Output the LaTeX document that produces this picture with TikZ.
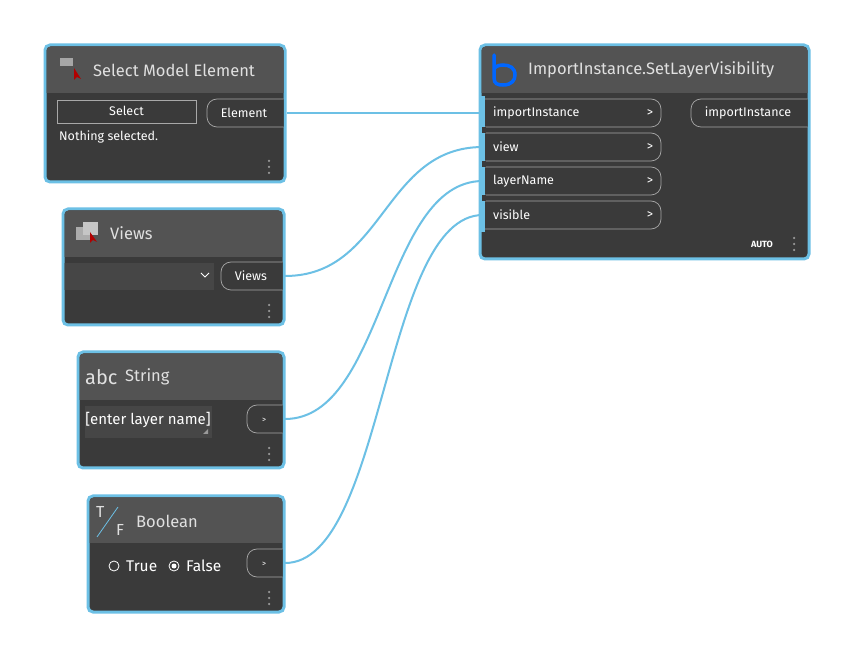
\documentclass[tikz,border=0pt]{standalone}
\usepackage{fontspec}
\setmainfont{Fira Sans}
\begin{document}
\begin{tikzpicture}[x=1pt,y=-1pt,
  frame/.style={draw=wire,line width=3pt,fill=body,rounded corners=5pt},
  title/.style={text=titl,font=\fontsize{16.5}{18}\selectfont,anchor=west,inner sep=0},
  pill/.style={draw=pillb,line width=0.7pt,rounded corners=10pt,fill=body},
  ptxt/.style={text=white,font=\fontsize{12.5}{14}\selectfont,inner sep=0},
  wireln/.style={draw=wire,line width=2pt},
  dots/.style={fill=gray!80,circle,inner sep=0,minimum size=2.5pt}]
\definecolor{wire}{HTML}{6CC0E5}
\definecolor{body}{HTML}{3A3A3A}
\definecolor{head}{HTML}{535353}
\definecolor{titl}{HTML}{E0E0E0}
\definecolor{pillb}{HTML}{A8A8A8}
\useasboundingbox[fill=white] (0,0) rectangle (855,660);
% wires
\coordinate (o1) at (287,113); \coordinate (o2) at (285,276);
\coordinate (o3) at (285,419); \coordinate (o4) at (285,563);
\coordinate (i1) at (483,113); \coordinate (i2) at (483,147);
\coordinate (i3) at (483,181); \coordinate (i4) at (483,215);
\draw[wireln] (o1) -- (i1);
\draw[wireln] (o2) .. controls (385,276) and (383,147) .. (i2);
\draw[wireln] (o3) .. controls (385,419) and (383,181) .. (i3);
\draw[wireln] (o4) .. controls (385,563) and (383,215) .. (i4);
% node 1
\draw[frame] (45,45) rectangle (285,182);
\begin{scope}\clip[rounded corners=4pt] (46.5,46.5) rectangle (283.5,180.5);
\fill[head] (46,46) rectangle (284,93);
\draw[pill] (207,99) -- (300,99) -- (300,127) -- (207,127) -- cycle;
\end{scope}
\node[title] (t1) at (93,70) {Select Model Element};
\fill[gray!70] (60,58) rectangle (73,66);
\fill[red!70!black] (74,68) -- (74,80) -- (77,77) -- (81,79) -- cycle;
\draw[pillb,line width=0.7pt] (57,100) rectangle (196,123);
\node[ptxt] (s1) at (126.5,111) {Select};
\node[ptxt,anchor=west] (n1) at (59,137) {Nothing selected.};
\node[ptxt] (p1) at (244,113) {Element};
\foreach \y in {161,167,173} \node[dots] at (269,\y) {};
% node 2
\draw[frame] (480,45) rectangle (809,259);
\begin{scope}\clip[rounded corners=4pt] (481.5,46.5) rectangle (807.5,257.5);
\fill[head] (481,46) rectangle (808,93);
\foreach \yy in {99,133,167,201}
  \draw[pill] (470,\yy) -- (661,\yy) -- (661,\yy+28) -- (470,\yy+28) -- cycle;
\draw[pill] (691,99) -- (830,99) -- (830,127) -- (691,127) -- cycle;
\end{scope}
\draw[line width=3.5pt,color=blue!60!cyan,line cap=round] (494,55) -- (494,78) .. controls (494,84) and (498,85) .. (503,85) .. controls (512,85) and (515,80) .. (515,75) .. controls (515,68) and (510,65) .. (503,65) .. controls (498,65) and (495,67) .. (494,69);
\node[title] (t2) at (528,70) {ImportInstance.SetLayerVisibility};
\foreach \yy/\lab/\nm in {99/importInstance/a,133/view/b,167/layerName/c,201/visible/d}{
  \node[ptxt,anchor=west] (in\nm) at (493,\yy+14) {\lab};
  \node[ptxt] (gt\nm) at (650,\yy+14) {>};}
\fill[wire] (481,96) rectangle (485,232);
\foreach \yy in {127,161,195} \fill[body] (482,\yy) rectangle (486,\yy+6);
\node[ptxt] (out) at (748,113) {importInstance};
\node[text=white,font=\bfseries\fontsize{9}{10}\selectfont,inner sep=0] (auto) at (762,244) {AUTO};
\foreach \y in {238,244,250} \node[dots] at (794,\y) {};
% node 3
\draw[frame] (63,209) rectangle (284,325);
\begin{scope}\clip[rounded corners=4pt] (64.5,210.5) rectangle (282.5,323.5);
\fill[head] (64,210) rectangle (283,257);
\fill[gray!55!black] (64,263) rectangle (214,290);
\draw[pill] (221,262) -- (300,262) -- (300,290) -- (221,290) -- cycle;
\end{scope}
\fill[gray!65] (76,227) rectangle (92,240); \fill[gray!45] (83,222) rectangle (98,235);
\fill[red!70!black] (90,232) -- (90,243) -- (93,240) -- (97,242) -- cycle;
\node[title] (t3) at (110,233) {Views};
\draw[white,line width=0.9pt] (201,273) -- (205,277) -- (209,273);
\node[ptxt] (p3) at (251,276) {Views};
\foreach \y in {305,311,317} \node[dots] at (269,\y) {};
% node 4
\draw[frame] (78,352) rectangle (284,468);
\begin{scope}\clip[rounded corners=4pt] (79.5,353.5) rectangle (282.5,466.5);
\fill[head] (79,353) rectangle (283,400);
\draw[pill] (247,405) -- (300,405) -- (300,433) -- (247,433) -- cycle;
\end{scope}
\node[title,font=\fontsize{20}{21}\selectfont] (abc) at (85,377) {abc};
\node[title] (t4) at (125,377) {String};
\fill[gray!55!black] (85,406) rectangle (212,438);
\fill[gray!80] (208,434) -- (208,429) -- (203,434) -- cycle;
\node[ptxt,font=\fontsize{15}{16}\selectfont,text=white] (str) at (148,420) {[enter layer name]};
\node[ptxt,font=\fontsize{8}{9}\selectfont] (p4) at (264,420) {>};
\foreach \y in {448,454,460} \node[dots] at (269,\y) {};
% node 5
\draw[frame] (88,496) rectangle (284,612);
\begin{scope}\clip[rounded corners=4pt] (89.5,497.5) rectangle (282.5,610.5);
\fill[head] (89,497) rectangle (283,543);
\draw[pill] (247,549) -- (300,549) -- (300,577) -- (247,577) -- cycle;
\end{scope}
\node[title,font=\fontsize{16}{17}\selectfont] (tT) at (96,512) {T};
\node[title,font=\fontsize{16}{17}\selectfont] (tF) at (116,530) {F};
\draw[wire,line width=0.8pt] (97,537) -- (118,507);
\node[title] (t5) at (136,521) {Boolean};
\draw[white,line width=0.8pt] (114,566) circle (5);
\draw[white,line width=0.8pt] (174,566) circle (5); \fill[white] (174,566) circle (2.5);
\node[ptxt,anchor=west,font=\fontsize{15.5}{17}\selectfont] (tr) at (126,566) {True};
\node[ptxt,anchor=west,font=\fontsize{15.5}{17}\selectfont] (fa) at (186,566) {False};
\node[ptxt,font=\fontsize{8}{9}\selectfont] (p5) at (264,564) {>};
\foreach \y in {592,598,604} \node[dots] at (269,\y) {};
\end{tikzpicture}
\end{document}
